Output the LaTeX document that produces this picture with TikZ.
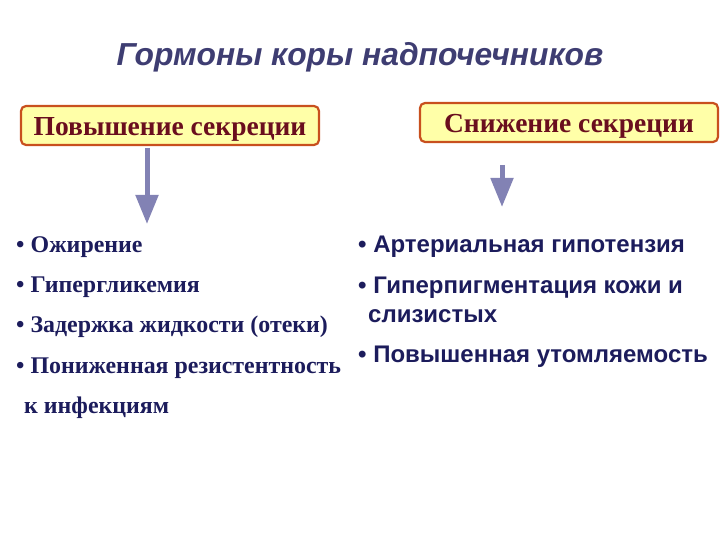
\documentclass[tikz,border=0pt]{standalone}
\usepackage{fontspec}
\setmainfont{Liberation Serif}
\setsansfont{Liberation Sans}
\usetikzlibrary{arrows.meta}
\definecolor{titlecol}{HTML}{3E3D72}
\definecolor{boxfill}{HTML}{FFFFA8}
\definecolor{boxline}{HTML}{C8501E}
\definecolor{boxtext}{HTML}{6A0E1E}
\definecolor{listcol}{HTML}{1C1C5C}
\definecolor{arrcol}{HTML}{8282B4}
\tikzset{
  hbox/.style={draw=boxline, line width=2.2pt, fill=boxfill, rounded corners=5pt,
    minimum width=298pt, minimum height=39pt, inner sep=0pt,
    text height=22pt, text depth=2pt,
    text=boxtext, font=\fontsize{27.5}{30}\selectfont\bfseries},
  litem/.style={anchor=base west, inner sep=0pt, text=listcol,
    font=\fontsize{23.9}{28}\selectfont\bfseries},
  ritem/.style={anchor=base west, inner sep=0pt, text=listcol,
    font=\sffamily\fontsize{24}{28}\selectfont\bfseries},
  bigarrow/.style={draw=arrcol, line width=5pt,
    -{Triangle[length=29pt,width=22pt]}, shorten >=0pt},
}
\begin{document}
\begin{tikzpicture}[x=1pt,y=-1pt]
\useasboundingbox (0,0) rectangle (720,540);
\node[anchor=base, text=titlecol, font=\sffamily\bfseries\itshape\fontsize{31.8}{34}\selectfont] (title) at (360,66) {Гормоны коры надпочечников};
\node[hbox] (up) at (170,125.5) {Повышение секреции};
\node[hbox] (down) at (569,122.5) {Снижение секреции};
\coordinate (a1s) at (147,148);
\coordinate (a1e) at (147,224);
\coordinate (a2s) at (502,165);
\coordinate (a2e) at (502,207);
\draw[bigarrow] (a1s) -- (a1e);
\draw[bigarrow] (a2s) -- (a2e);
\node[litem] (l1) at (16,252) {• Ожирение};
\node[litem] (l2) at (16,292) {• Гипергликемия};
\node[litem] (l3) at (16,332) {• Задержка жидкости (отеки)};
\node[litem] (l4) at (16,373) {• Пониженная резистентность};
\node[litem] (l5) at (24,413) {к инфекциям};
\node[ritem] (r1) at (358,252) {• Артериальная гипотензия};
\node[ritem] (r2) at (358,293) {• Гиперпигментация кожи и};
\node[ritem] (r3) at (368,322) {слизистых};
\node[ritem] (r4) at (358,362) {• Повышенная утомляемость};
\end{tikzpicture}
\end{document}
